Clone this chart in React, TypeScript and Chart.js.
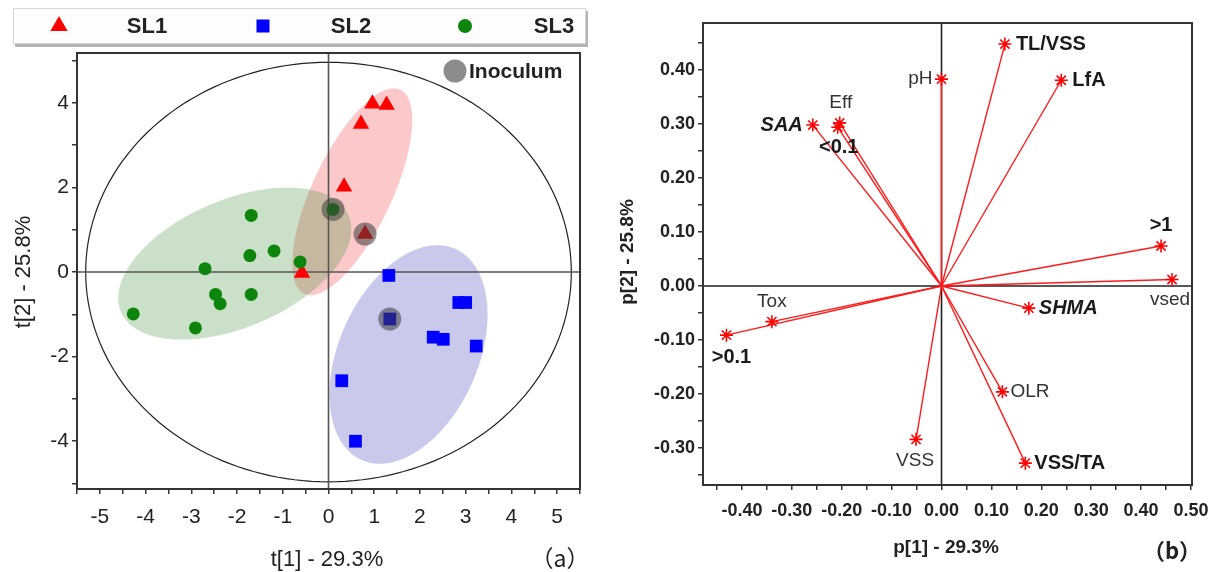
import React, { useEffect, useRef } from 'react';
import { Chart, registerables } from 'chart.js';

Chart.register(...registerables);

const FONT = '"Liberation Sans", Arial, Helvetica, sans-serif';
const CJK = '"Noto Sans CJK SC", "Liberation Sans", sans-serif';

// ---------------- Panel (a): scores ----------------
const groupNames = ['SL1', 'SL2', 'SL3'];
const sl1X = [0.96, 1.27, 0.71, 0.34, 0.8, -0.58];
const sl1Y = [3.98, 3.95, 3.5, 2.02, 0.9, -0.02];
const sl2X = [1.32, 2.85, 3.0, 1.34, 2.29, 2.51, 3.23, 0.29, 0.59];
const sl2Y = [-0.08, -0.72, -0.72, -1.11, -1.54, -1.59, -1.75, -2.57, -4.0];
const sl3X = [-1.69, -1.72, -1.19, -2.7, -0.62, 0.1, -2.47, -2.37, -1.69, -4.27, -2.91];
const sl3Y = [1.34, 0.39, 0.5, 0.08, 0.24, 1.48, -0.53, -0.75, -0.53, -0.99, -1.32];
const inoculumLabel = 'Inoculum';
const inoculumX = [0.1, 0.8, 1.34];
const inoculumY = [1.48, 0.9, -1.11];

// group ellipses (order: SL1, SL2, SL3)
const ellipseCenterX = [0.52, 1.75, -2.05];
const ellipseCenterY = [1.9, -1.95, 0.2];
const ellipseSemiMajor = [2.63, 2.7, 2.74];
const ellipseSemiMinor = [0.88, 1.54, 1.49];
const ellipseAngleDeg = [66.9, 69.3, 25.9];
const hotellingRadiusX = 5.31;
const hotellingRadiusY = 4.96;

const scoreXTitle = 't[1] - 29.3%';
const scoreYTitle = 't[2] - 25.8%';
const scoreTag = '（a）';

// ---------------- Panel (b): loadings ----------------
const loadingNames = ['TL/VSS', 'pH', 'LfA', 'SAA', 'Eff', '<0.1', '>1', 'vsed', 'Tox', '>0.1', 'SHMA', 'OLR', 'VSS', 'VSS/TA'];
const loadingX = [0.127, 0.0, 0.24, -0.258, -0.204, -0.208, 0.44, 0.462, -0.34, -0.431, 0.175, 0.122, -0.051, 0.168];
const loadingY = [0.448, 0.383, 0.381, 0.298, 0.302, 0.294, 0.074, 0.012, -0.066, -0.091, -0.041, -0.196, -0.284, -0.328];

const loadingXTitle = 'p[1] - 29.3%';
const loadingYTitle = 'p[2] - 25.8%';
const loadingTag = '（b）';

// label placement / style (pixels), kept apart from the data
type LabelStyle = { dx: number; dy: number; align: CanvasTextAlign; bold: boolean; italic: boolean };
const loadingLabelStyle: LabelStyle[] = [
  { dx: 11, dy: 0, align: 'left', bold: true, italic: false },
  { dx: -9, dy: 0, align: 'right', bold: false, italic: false },
  { dx: 11, dy: 0, align: 'left', bold: true, italic: false },
  { dx: -10, dy: 0, align: 'right', bold: true, italic: true },
  { dx: 1, dy: -20, align: 'center', bold: false, italic: false },
  { dx: 1, dy: 20, align: 'center', bold: true, italic: false },
  { dx: 0, dy: -21, align: 'center', bold: true, italic: false },
  { dx: -2, dy: 20, align: 'center', bold: false, italic: false },
  { dx: 0, dy: -20, align: 'center', bold: false, italic: false },
  { dx: 5, dy: 22, align: 'center', bold: true, italic: false },
  { dx: 10, dy: 0, align: 'left', bold: true, italic: true },
  { dx: 8, dy: 0, align: 'left', bold: false, italic: false },
  { dx: -1, dy: 21, align: 'center', bold: false, italic: false },
  { dx: 9, dy: 0, align: 'left', bold: true, italic: false },
];

const groupColors = ['#ff0000', '#0000ff', '#0d850d'];
const ellipseFills = ['rgba(240,60,60,0.28)', 'rgba(100,100,200,0.35)', 'rgba(60,140,50,0.27)'];

const pts = (xs: number[], ys: number[]) => xs.map((x, i) => ({ x, y: ys[i] }));

function drawTriangle(ctx: CanvasRenderingContext2D, x: number, y: number, r: number) {
  ctx.beginPath();
  ctx.moveTo(x, y - r);
  ctx.lineTo(x + r * 0.866, y + r * 0.5);
  ctx.lineTo(x - r * 0.866, y + r * 0.5);
  ctx.closePath();
  ctx.fill();
}

const panelAPlugin = {
  id: 'panelA',
  beforeDatasetsDraw(chart: any) {
    const { ctx, chartArea: ca } = chart;
    const xs = chart.scales.x;
    const ys = chart.scales.y;
    ctx.save();
    ctx.beginPath();
    ctx.rect(ca.left, ca.top, ca.right - ca.left, ca.bottom - ca.top);
    ctx.clip();
    const N = 180;
    for (let g = 0; g < ellipseCenterX.length; g++) {
      const th = (ellipseAngleDeg[g] * Math.PI) / 180;
      const a = ellipseSemiMajor[g];
      const b = ellipseSemiMinor[g];
      ctx.beginPath();
      for (let i = 0; i <= N; i++) {
        const t = (i / N) * Math.PI * 2;
        const dx = a * Math.cos(t) * Math.cos(th) - b * Math.sin(t) * Math.sin(th);
        const dy = a * Math.cos(t) * Math.sin(th) + b * Math.sin(t) * Math.cos(th);
        const px = xs.getPixelForValue(ellipseCenterX[g] + dx);
        const py = ys.getPixelForValue(ellipseCenterY[g] + dy);
        if (i === 0) ctx.moveTo(px, py);
        else ctx.lineTo(px, py);
      }
      ctx.closePath();
      ctx.fillStyle = ellipseFills[g];
      ctx.fill();
    }
    // Hotelling T2 ellipse
    ctx.beginPath();
    for (let i = 0; i <= N; i++) {
      const t = (i / N) * Math.PI * 2;
      const px = xs.getPixelForValue(hotellingRadiusX * Math.cos(t));
      const py = ys.getPixelForValue(hotellingRadiusY * Math.sin(t));
      if (i === 0) ctx.moveTo(px, py);
      else ctx.lineTo(px, py);
    }
    ctx.closePath();
    ctx.strokeStyle = '#222';
    ctx.lineWidth = 1.2;
    ctx.stroke();
    // crosshair
    ctx.strokeStyle = '#555';
    ctx.lineWidth = 1.6;
    const x0 = xs.getPixelForValue(0);
    const y0 = ys.getPixelForValue(0);
    ctx.beginPath();
    ctx.moveTo(x0, ca.top);
    ctx.lineTo(x0, ca.bottom);
    ctx.moveTo(ca.left, y0);
    ctx.lineTo(ca.right, y0);
    ctx.stroke();
    ctx.restore();
  },
  afterDraw(chart: any) {
    const { ctx, chartArea: ca } = chart;
    ctx.save();
    // frame
    ctx.strokeStyle = '#333';
    ctx.lineWidth = 2;
    ctx.strokeRect(ca.left, ca.top, ca.right - ca.left, ca.bottom - ca.top);
    // legend box
    ctx.fillStyle = '#b4b4b4';
    ctx.fillRect(15, 11, 573, 36);
    ctx.fillStyle = '#fdfdfd';
    ctx.fillRect(13, 8, 573, 36);
    ctx.strokeStyle = '#d6d6d6';
    ctx.lineWidth = 1;
    ctx.strokeRect(13.5, 8.5, 572, 35);
    const markerX = [59, 263, 465];
    const textX = [147, 351, 554];
    const ly = 26;
    ctx.fillStyle = groupColors[0];
    drawTriangle(ctx, markerX[0], ly, 10);
    ctx.fillStyle = groupColors[1];
    ctx.fillRect(markerX[1] - 6.5, ly - 6.5, 13, 13);
    ctx.fillStyle = groupColors[2];
    ctx.beginPath();
    ctx.arc(markerX[2], ly, 7, 0, Math.PI * 2);
    ctx.fill();
    ctx.fillStyle = '#222';
    ctx.font = `bold 22px ${FONT}`;
    ctx.textAlign = 'center';
    ctx.textBaseline = 'middle';
    groupNames.forEach((n, i) => ctx.fillText(n, textX[i], ly + 1));
    // inoculum legend
    ctx.fillStyle = '#8c8c8c';
    ctx.beginPath();
    ctx.arc(455, 71, 11.5, 0, Math.PI * 2);
    ctx.fill();
    ctx.fillStyle = '#222';
    ctx.font = `bold 21px ${FONT}`;
    ctx.textAlign = 'left';
    ctx.fillText(inoculumLabel, 469, 72);
    // titles
    ctx.font = `22px ${FONT}`;
    ctx.textAlign = 'center';
    ctx.fillText(scoreXTitle, 327, 560);
    ctx.save();
    ctx.translate(24, 272);
    ctx.rotate(-Math.PI / 2);
    ctx.fillText(scoreYTitle, 0, 0);
    ctx.restore();
    ctx.font = `23px ${CJK}`;
    ctx.fillText(scoreTag, 560, 558);
    ctx.restore();
  },
};

const panelBPlugin = {
  id: 'panelB',
  beforeDatasetsDraw(chart: any) {
    const { ctx, chartArea: ca } = chart;
    const x0 = chart.scales.x.getPixelForValue(0);
    const y0 = chart.scales.y.getPixelForValue(0);
    ctx.save();
    ctx.strokeStyle = '#222';
    ctx.lineWidth = 1.6;
    ctx.beginPath();
    ctx.moveTo(x0, ca.top);
    ctx.lineTo(x0, ca.bottom);
    ctx.moveTo(ca.left, y0);
    ctx.lineTo(ca.right, y0);
    ctx.stroke();
    ctx.restore();
  },
  afterDatasetsDraw(chart: any) {
    const { ctx } = chart;
    const xs = chart.scales.x;
    const ys = chart.scales.y;
    ctx.save();
    ctx.textBaseline = 'middle';
    loadingNames.forEach((name, i) => {
      const st = loadingLabelStyle[i];
      const px = xs.getPixelForValue(loadingX[i]);
      const py = ys.getPixelForValue(loadingY[i]);
      ctx.font = `${st.italic ? 'italic ' : ''}${st.bold ? 'bold 20px' : '19px'} ${FONT}`;
      ctx.fillStyle = st.bold ? '#1a1a1a' : '#333';
      ctx.textAlign = st.align;
      ctx.fillText(name, px + st.dx, py + st.dy);
    });
    ctx.restore();
  },
  afterDraw(chart: any) {
    const { ctx, chartArea: ca } = chart;
    ctx.save();
    ctx.strokeStyle = '#333';
    ctx.lineWidth = 2;
    ctx.strokeRect(ca.left, ca.top, ca.right - ca.left, ca.bottom - ca.top);
    ctx.fillStyle = '#222';
    ctx.textAlign = 'center';
    ctx.textBaseline = 'middle';
    ctx.font = `bold 19px ${FONT}`;
    ctx.fillText(loadingXTitle, 346, 548);
    ctx.save();
    ctx.translate(28, 252);
    ctx.rotate(-Math.PI / 2);
    ctx.fillText(loadingYTitle, 0, 0);
    ctx.restore();
    ctx.font = `bold 22px ${CJK}`;
    ctx.fillText(loadingTag, 572, 551);
    ctx.restore();
  },
};

const tickGrid = {
  display: true,
  drawOnChartArea: false,
  drawTicks: true,
  tickLength: 5,
  color: '#333',
  lineWidth: 1.5,
};

function makeTicks(from: number, to: number, step: number) {
  const out: { value: number }[] = [];
  for (let k = from; k <= to; k++) out.push({ value: +(k * step).toFixed(4) });
  return out;
}

export default function App() {
  const refA = useRef<HTMLCanvasElement>(null);
  const refB = useRef<HTMLCanvasElement>(null);

  useEffect(() => {
    const chartA = new Chart(refA.current!, {
      type: 'scatter',
      data: {
        datasets: [
          {
            label: inoculumLabel,
            data: pts(inoculumX, inoculumY),
            pointStyle: 'circle',
            pointRadius: 11.5,
            backgroundColor: 'rgba(60,60,60,0.55)',
            borderWidth: 0,
          },
          {
            label: groupNames[2],
            data: pts(sl3X, sl3Y),
            pointStyle: 'circle',
            pointRadius: 6.5,
            backgroundColor: groupColors[2],
            borderWidth: 0,
          },
          {
            label: groupNames[1],
            data: pts(sl2X, sl2Y),
            pointStyle: 'rect',
            pointRadius: 9,
            backgroundColor: groupColors[1],
            borderWidth: 0,
          },
          {
            label: groupNames[0],
            data: pts(sl1X, sl1Y),
            pointStyle: 'triangle',
            pointRadius: 9.5,
            backgroundColor: groupColors[0],
            borderWidth: 0,
          },
        ],
      } as any,
      options: {
        responsive: false,
        animation: false,
        events: [],
        layout: { padding: { left: 0, top: 53, right: 20, bottom: 0 } },
        plugins: { legend: { display: false }, tooltip: { enabled: false } },
        scales: {
          x: {
            type: 'linear',
            min: -5.5,
            max: 5.5,
            afterBuildTicks: (s: any) => {
              s.ticks = makeTicks(-11, 11, 0.5);
            },
            afterFit: (s: any) => {
              s.height = 83;
            },
            grid: tickGrid,
            border: { display: false },
            ticks: {
              autoSkip: false,
              maxRotation: 0,
              padding: 11,
              color: '#222',
              font: { family: FONT, size: 21 },
              callback: (v: any) => (Math.abs(v - Math.round(v)) < 1e-6 ? String(Math.round(v)) : ''),
            },
          },
          y: {
            type: 'linear',
            min: -5.13,
            max: 5.18,
            afterBuildTicks: (s: any) => {
              s.ticks = makeTicks(-5, 5, 1);
            },
            afterFit: (s: any) => {
              s.width = 77;
            },
            grid: tickGrid,
            border: { display: false },
            ticks: {
              autoSkip: false,
              padding: 3,
              color: '#222',
              font: { family: FONT, size: 21 },
              callback: (v: any) => (Math.round(v) % 2 === 0 ? String(Math.round(v)) : ''),
            },
          },
        },
      } as any,
      plugins: [panelAPlugin],
    });

    const lineSets = loadingNames.map((name, i) => ({
      label: name,
      data: [
        { x: 0, y: 0 },
        { x: loadingX[i], y: loadingY[i] },
      ],
      showLine: true,
      borderColor: '#ff1a1a',
      borderWidth: 1.4,
      pointStyle: 'star',
      pointRadius: [0, 6.5],
      pointBorderColor: '#ff0000',
      pointBorderWidth: 1.6,
      backgroundColor: '#ff0000',
    }));

    const fmt = (v: number) => {
      const n = Math.round(v * 100);
      if (n % 10 !== 0) return '';
      return (n / 100).toFixed(2);
    };

    const chartB = new Chart(refB.current!, {
      type: 'scatter',
      data: { datasets: lineSets } as any,
      options: {
        responsive: false,
        animation: false,
        events: [],
        layout: { padding: { left: 0, top: 23, right: 30, bottom: 0 } },
        plugins: { legend: { display: false }, tooltip: { enabled: false } },
        scales: {
          x: {
            type: 'linear',
            min: -0.478,
            max: 0.502,
            afterBuildTicks: (s: any) => {
              s.ticks = makeTicks(-9, 10, 0.05);
            },
            afterFit: (s: any) => {
              s.height = 87;
            },
            grid: tickGrid,
            border: { display: false },
            ticks: {
              autoSkip: false,
              maxRotation: 0,
              padding: 10,
              color: '#222',
              font: { family: FONT, size: 18, weight: 'bold' },
              callback: (v: any) => fmt(v),
            },
          },
          y: {
            type: 'linear',
            min: -0.3685,
            max: 0.487,
            afterBuildTicks: (s: any) => {
              s.ticks = makeTicks(-7, 9, 0.05);
            },
            afterFit: (s: any) => {
              s.width = 103;
            },
            grid: tickGrid,
            border: { display: false },
            ticks: {
              autoSkip: false,
              padding: 3,
              color: '#222',
              font: { family: FONT, size: 18, weight: 'bold' },
              callback: (v: any) => fmt(v),
            },
          },
        },
      } as any,
      plugins: [panelBPlugin],
    });

    return () => {
      chartA.destroy();
      chartB.destroy();
    };
  }, []);

  return (
    <div style={{ position: 'absolute', left: 0, top: 0, width: 1222, height: 572, background: '#fff' }}>
      <canvas
        ref={refA}
        width={600}
        height={572}
        style={{ position: 'absolute', left: 0, top: 0, width: 600, height: 572 }}
      />
      <canvas
        ref={refB}
        width={622}
        height={572}
        style={{ position: 'absolute', left: 600, top: 0, width: 622, height: 572 }}
      />
    </div>
  );
}
